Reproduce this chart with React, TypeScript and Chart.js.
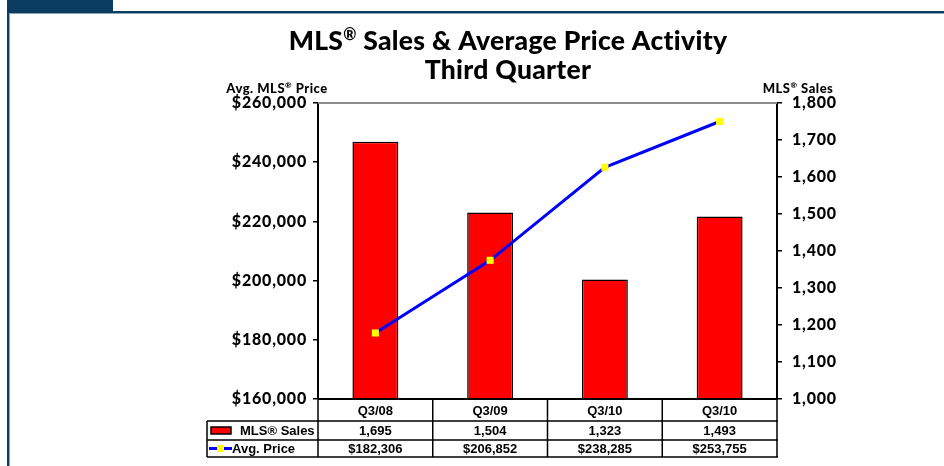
import React, { useEffect, useRef } from "react";
import { Chart, registerables } from "chart.js";

Chart.register(...registerables);

const categories = ["Q3/08", "Q3/09", "Q3/10", "Q3/10"];
const salesValues = [1695, 1504, 1323, 1493];
const priceValues = [182306, 206852, 238285, 253755];
const priceAxis = { min: 160000, max: 260000, step: 20000 };
const salesAxis = { min: 1000, max: 1800, step: 100 };
const salesSeriesName = "MLS® Sales";
const priceSeriesName = "Avg. Price";
const titleLine1 = ["MLS", "®", " Sales & Average Price Activity"];
const titleLine2 = "Third Quarter";
const leftAxisTitle = ["Avg. MLS", "®", " Price"];
const rightAxisTitle = ["MLS", "®", " Sales"];

const fmtNum = (v: number) => v.toLocaleString("en-US");
const fmtPrice = (v: number) => "$" + v.toLocaleString("en-US");

const HEAD = "Lato, 'Noto Sans', sans-serif";
const TABLE = "'Liberation Sans', Arial, sans-serif";

function drawSup(ctx: CanvasRenderingContext2D, parts: string[], cx: number, y: number, size: number, supSize: number, spacing: string) {
  ctx.save();
  (ctx as any).letterSpacing = spacing;
  ctx.textBaseline = "alphabetic";
  ctx.textAlign = "left";
  const big = `900 ${size}px ${HEAD}`;
  const small = `900 ${supSize}px ${HEAD}`;
  ctx.font = big;
  const w0 = ctx.measureText(parts[0]).width;
  const w2 = ctx.measureText(parts[2]).width;
  ctx.font = small;
  const w1 = ctx.measureText(parts[1]).width;
  let x = cx - (w0 + w1 + w2) / 2;
  ctx.fillStyle = "#000";
  ctx.font = big;
  ctx.fillText(parts[0], x, y);
  x += w0;
  ctx.font = small;
  ctx.fillText(parts[1], x, y - size * 0.38);
  x += w1;
  ctx.font = big;
  ctx.fillText(parts[2], x, y);
  ctx.restore();
}

const decorPlugin = {
  id: "decor",
  beforeDraw(chart: any) {
    (chart.ctx as any).letterSpacing = "0.8px";
  },
  afterDraw(chart: any) {
    const ctx: CanvasRenderingContext2D = chart.ctx;
    (ctx as any).letterSpacing = "0px";
    const area = chart.chartArea;
    const xs = chart.scales.x;
    ctx.save();
    // frame
    ctx.fillStyle = "#0b3c61";
    ctx.fillRect(7, 0, 106, 12);
    ctx.fillRect(7, 11, 944, 2);
    ctx.fillRect(7, 11, 2, 466);
    ctx.fillStyle = "#8aa3b8";
    ctx.fillRect(9, 13, 944, 1);
    ctx.fillRect(9, 13, 1, 466);

    // titles
    drawSup(ctx, titleLine1, 508, 50, 26.5, 16, "0.3px");
    ctx.save();
    (ctx as any).letterSpacing = "0.3px";
    ctx.font = `900 26.5px ${HEAD}`;
    ctx.fillStyle = "#000";
    ctx.textAlign = "center";
    ctx.textBaseline = "alphabetic";
    ctx.fillText(titleLine2, 508, 79);
    ctx.restore();
    drawSup(ctx, leftAxisTitle, 277, 93, 13, 8, "0.5px");
    drawSup(ctx, rightAxisTitle, 798, 93, 13, 8, "0.5px");

    // top border of plot
    ctx.fillStyle = "#8c8c8c";
    ctx.fillRect(area.left, area.top - 1, area.right - area.left, 2);

    // data table
    const n = categories.length;
    const half = (xs.getPixelForValue(1) - xs.getPixelForValue(0)) / 2;
    const legendLeft = 207;
    const y0 = area.bottom;
    const y1 = y0 + 22;
    const y2 = y1 + 19;
    const y3 = y2 + 17;
    ctx.strokeStyle = "#000";
    ctx.lineWidth = 1.5;
    ctx.beginPath();
    [y1, y2, y3].forEach((y) => {
      ctx.moveTo(legendLeft, y);
      ctx.lineTo(area.right + 1, y);
    });
    ctx.moveTo(legendLeft, y1);
    ctx.lineTo(legendLeft, y3);
    for (let i = 0; i <= n; i++) {
      const bx = i < n ? xs.getPixelForValue(i) - half : xs.getPixelForValue(n - 1) + half;
      ctx.moveTo(bx, y0);
      ctx.lineTo(bx, y3 + 0.75);
    }
    ctx.stroke();
    ctx.lineWidth = 2;
    ctx.beginPath();
    ctx.moveTo(area.left, y0);
    ctx.lineTo(area.right + 1, y0);
    ctx.stroke();

    ctx.fillStyle = "#000";
    ctx.textAlign = "center";
    ctx.textBaseline = "middle";
    ctx.font = `bold 13px ${TABLE}`;
    for (let i = 0; i < n; i++) {
      const cx = xs.getPixelForValue(i);
      ctx.fillText(categories[i], cx, (y0 + y1) / 2 + 1);
      ctx.fillText(fmtNum(salesValues[i]), cx, (y1 + y2) / 2 + 1);
      ctx.fillText(fmtPrice(priceValues[i]), cx, (y2 + y3) / 2 + 1);
    }
    // legend cells
    ctx.textAlign = "left";
    ctx.fillText(salesSeriesName, 240, (y1 + y2) / 2 + 1);
    ctx.fillText(priceSeriesName, 232, (y2 + y3) / 2 + 1);
    ctx.fillStyle = "#ff0000";
    ctx.fillRect(211, (y1 + y2) / 2 - 3.5, 20, 7);
    ctx.lineWidth = 1.5;
    ctx.strokeRect(211, (y1 + y2) / 2 - 3.5, 20, 7);
    ctx.strokeStyle = "#0000ff";
    ctx.lineWidth = 3;
    ctx.beginPath();
    ctx.moveTo(209, (y2 + y3) / 2);
    ctx.lineTo(232, (y2 + y3) / 2);
    ctx.stroke();
    ctx.fillStyle = "#ffff00";
    ctx.fillRect(217, (y2 + y3) / 2 - 3.5, 7, 7);
    ctx.restore();
  },
};

export default function App() {
  const ref = useRef<HTMLCanvasElement>(null);
  useEffect(() => {
    if (!ref.current) return;
    const tickFont = { family: HEAD, size: 16, weight: "900" as any };
    const chart = new Chart(ref.current, {
      data: {
        labels: categories,
        datasets: [
          {
            type: "line",
            label: priceSeriesName,
            data: priceValues,
            yAxisID: "y",
            borderColor: "#0000ff",
            borderWidth: 3,
            pointStyle: "rect",
            pointRadius: 5,
            pointBackgroundColor: "#ffff00",
            pointBorderWidth: 0,
            pointBorderColor: "#ffff00",
            tension: 0,
            order: 0,
          },
          {
            type: "bar",
            label: salesSeriesName,
            data: salesValues,
            yAxisID: "y1",
            backgroundColor: "#ff0000",
            borderColor: "#000000",
            borderWidth: 1.5,
            borderSkipped: false,
            barPercentage: 0.4,
            categoryPercentage: 1,
            order: 1,
          },
        ],
      } as any,
      options: {
        animation: false,
        responsive: false,
        maintainAspectRatio: false,
        layout: { padding: { left: 0, right: 0, top: 103, bottom: 67 } },
        plugins: { legend: { display: false }, tooltip: { enabled: false }, title: { display: false } },
        scales: {
          x: { display: false, offset: true },
          y: {
            position: "left",
            min: priceAxis.min,
            max: priceAxis.max,
            afterFit: (s: any) => { s.width = 318; },
            ticks: { stepSize: priceAxis.step, font: tickFont, color: "#000", padding: 6, callback: (v: any) => fmtPrice(Number(v)) },
            grid: { drawOnChartArea: false, drawTicks: true, tickLength: 5, color: "#000", lineWidth: 1.5 },
            border: { display: true, color: "#000", width: 2 },
          },
          y1: {
            position: "right",
            min: salesAxis.min,
            max: salesAxis.max,
            afterFit: (s: any) => { s.width = 167; },
            ticks: { stepSize: salesAxis.step, font: tickFont, color: "#000", padding: 10, callback: (v: any) => fmtNum(Number(v)) },
            grid: { drawOnChartArea: false, drawTicks: true, tickLength: 5, color: "#000", lineWidth: 1.5 },
            border: { display: true, color: "#000", width: 2 },
          },
        },
      } as any,
      plugins: [decorPlugin],
    });
    return () => chart.destroy();
  }, []);
  return (
    <div style={{ position: "fixed", left: 0, top: 0, width: 944, height: 466, background: "#fff" }}>
      <canvas ref={ref} width={944} height={466} style={{ display: "block", width: 944, height: 466 }} />
    </div>
  );
}
